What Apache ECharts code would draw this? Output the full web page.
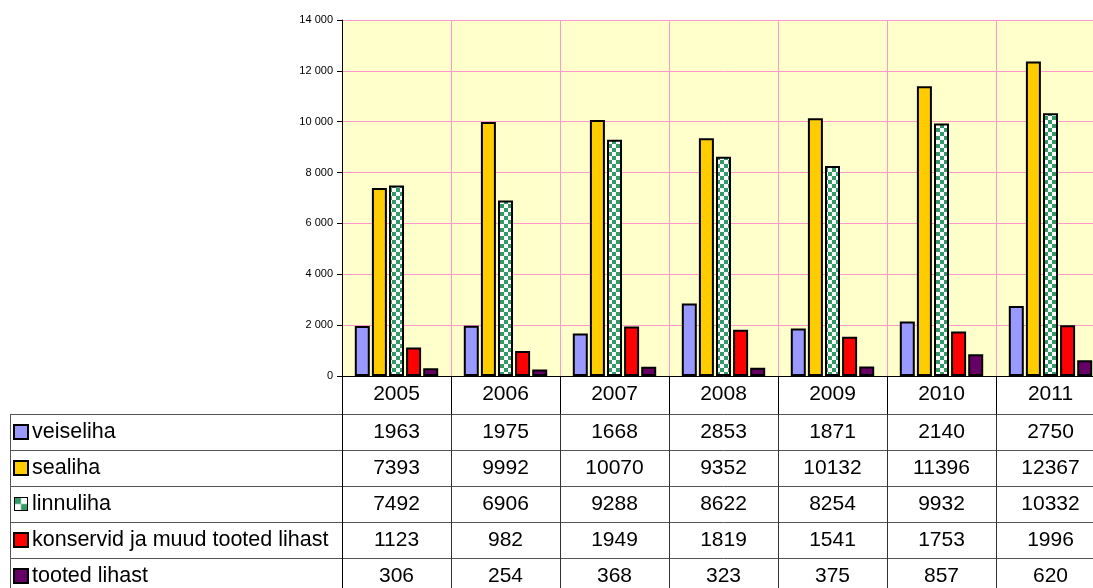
<!DOCTYPE html>
<html>
<head>
<meta charset="utf-8">
<script src="https://cdn.jsdelivr.net/npm/echarts@6/dist/echarts.min.js"></script>
<style>
html,body{margin:0;padding:0;background:#fff;overflow:hidden;width:1093px;height:588px;}
#c{width:1110px;height:600px;}
</style>
</head>
<body>
<div id="c"></div>
<script>
const years = ['2005','2006','2007','2008','2009','2010','2011'];
const seriesNames = ['veiseliha','sealiha','linnuliha','konservid ja muud tooted lihast','tooted lihast'];
const veiseliha = [1963,1975,1668,2853,1871,2140,2750];
const sealiha = [7393,9992,10070,9352,10132,11396,12367];
const linnuliha = [7492,6906,9288,8622,8254,9932,10332];
const konservid = [1123,982,1949,1819,1541,1753,1996];
const tootedLihast = [306,254,368,323,375,857,620];
const seriesValues = [veiseliha, sealiha, linnuliha, konservid, tootedLihast];

const FONT = 'Arial, "Liberation Sans", sans-serif';

// checkered pattern for linnuliha
const pat = document.createElement('canvas');
pat.width = 8; pat.height = 8;
const pc = pat.getContext('2d');
pc.fillStyle = '#ffffff'; pc.fillRect(0,0,8,8);
pc.fillStyle = '#339966';
pc.fillRect(0,0,4,4); pc.fillRect(4,4,4,4);
const checker = {image: pat, repeat: 'repeat'};

const colors = ['#9999FF', '#FFCC00', checker, '#FF0000', '#660066'];

const GRID_LEFT = 342;
const PLOT_TOP = 20, PLOT_H = 356;
const HEADER_H = 38;
const ROW_H = 36;
const CAT_W = 109;
const TABLE_LEFT = 10;
const gridWidth = CAT_W * years.length;
const tableTop = PLOT_TOP + PLOT_H + HEADER_H;
const tableH = ROW_H * seriesNames.length;

const rich = {t: {fontSize: 21.5, fontFamily: FONT, color: '#000', padding: [0,0,0,5]}};
seriesNames.forEach((n, i) => {
  rich['k' + i] = {width: 12, height: 12, backgroundColor: colors[i], borderColor: '#000', borderWidth: 2};
});

const tableData = [];
seriesValues.forEach((arr, s) => arr.forEach((v, i) => tableData.push([i, s, v])));

const chart = echarts.init(document.getElementById('c'), null, {renderer: 'canvas'});
const option = {
  animation: false,
  backgroundColor: '#fff',
  textStyle: {fontFamily: FONT},
  grid: [
    {left: GRID_LEFT, top: PLOT_TOP, width: gridWidth, height: PLOT_H, show: true, backgroundColor: '#FFFFCC', borderWidth: 0},
    {left: GRID_LEFT, top: tableTop, width: gridWidth, height: tableH, show: false}
  ],
  xAxis: [
    {
      type: 'category', gridIndex: 0, data: years,
      axisLine: {show: true, lineStyle: {color: '#000', width: 1}},
      axisTick: {show: true, interval: 0, length: HEADER_H, lineStyle: {color: '#000', width: 1}},
      axisLabel: {interval: 0, fontSize: 21, fontFamily: FONT, color: '#000', margin: 8},
      splitLine: {show: true, interval: 0, lineStyle: {color: '#FF99CC', width: 1}}
    },
    {
      type: 'category', gridIndex: 1, data: years,
      axisLine: {show: false}, axisTick: {show: false}, axisLabel: {show: false},
      splitLine: {show: true, interval: 0, lineStyle: {color: '#333', width: 1}}
    }
  ],
  yAxis: [
    {
      type: 'value', gridIndex: 0, min: 0, max: 14000, interval: 2000,
      axisLine: {show: true, lineStyle: {color: '#000', width: 1}},
      axisTick: {show: true, length: 5, lineStyle: {color: '#000'}},
      axisLabel: {fontSize: 11, fontFamily: FONT, color: '#000', margin: 9,
        formatter: v => String(v).replace(/\B(?=(\d{3})+(?!\d))/g, ' ')},
      splitLine: {show: true, lineStyle: {color: '#FF99CC', width: 1}}
    },
    {
      type: 'category', gridIndex: 1, data: seriesNames, inverse: true,
      axisLine: {show: true, lineStyle: {color: '#000', width: 1}},
      axisTick: {show: true, interval: 0, length: GRID_LEFT - TABLE_LEFT, lineStyle: {color: '#555', width: 1}},
      axisLabel: {interval: 0, align: 'left', margin: GRID_LEFT - TABLE_LEFT - 5,
        formatter: (v, i) => '{k' + i + '|}{t|' + v + '}', rich: rich},
      splitLine: {show: true, interval: 0, lineStyle: {color: '#555', width: 1}}
    }
  ],
  series: seriesNames.map((n, i) => ({
    name: n, type: 'bar', xAxisIndex: 0, yAxisIndex: 0,
    data: seriesValues[i], barWidth: 15, barGap: '14%',
    itemStyle: {color: colors[i], borderColor: '#000', borderWidth: 2}
  })).concat([{
    type: 'custom', xAxisIndex: 1, yAxisIndex: 1, data: tableData, silent: true,
    renderItem: (params, api) => {
      const p = api.coord([api.value(0), api.value(1)]);
      return {type: 'text', style: {text: String(api.value(2)), x: p[0], y: p[1],
        align: 'center', verticalAlign: 'middle', fontSize: 21, fontFamily: FONT, fill: '#000'}};
    }
  }]),
  graphic: [{
    type: 'line', silent: true,
    shape: {x1: TABLE_LEFT + 0.5, y1: tableTop, x2: TABLE_LEFT + 0.5, y2: tableTop + tableH},
    style: {stroke: '#555', lineWidth: 1}
  }]
};
chart.setOption(option);
</script>
</body>
</html>
